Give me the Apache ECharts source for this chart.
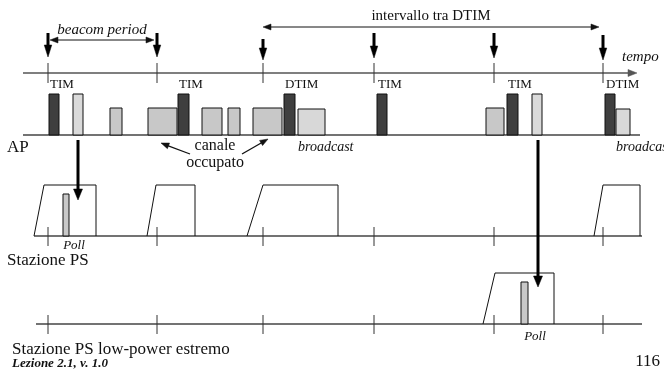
<!DOCTYPE html>
<html><head><meta charset="utf-8">
<script src="https://cdn.jsdelivr.net/npm/echarts@6/dist/echarts.min.js"></script>
<style>html,body{margin:0;padding:0;background:#fff}#c{width:664px;height:373px}</style>
</head><body><div id="c"></div>
<script>
// ---- data (time in diagram units along the x axis) ----
const beaconTimes = [48, 157, 263, 374, 494, 603];
const beaconKinds = ['TIM', 'TIM', 'DTIM', 'TIM', 'TIM', 'DTIM'];
const beaconArrowStart = [33, 33, 39, 33, 33, 35];
const beaconArrowTip = [57, 57, 60, 58, 58, 60];
const timFrames = [[49, 59], [178, 189], [284, 295], [377, 387], [507, 518], [605, 615]];
const unicastFrames = [[73, 83], [532, 542]];
const broadcastFrames = [[298, 325], [616, 630]];
const busyFrames = [[110, 122], [148, 177], [202, 222], [228, 240], [253, 282], [486, 504]];
const psAwake = [[34, 44, 96], [147, 156, 195], [247, 263, 338], [594, 603, 640]];
const lpAwake = [[483, 495, 554]];
const pollPS = [[63, 69]];
const pollLP = [[521, 528]];
const beaconPeriod = [50, 154];
const dtimInterval = [263, 599];

// ---- layout rows (y in the same diagram units, top-down) ----
const ROW = { axis: 73, ap: 135, ps: 236, lp: 324 };
const AP_TALL = 94, AP_SHORT = 109, PS_TOP = 185, LP_TOP = 273;

const FONT = '"Liberation Serif","Times New Roman",serif';

function segSeries(data, color, lw) {
  return { type: 'custom', silent: true, data: data,
    renderItem(p, api) {
      const a = api.coord([api.value(0), api.value(1)]);
      const b = api.coord([api.value(2), api.value(3)]);
      return { type: 'line', shape: { x1: a[0], y1: a[1], x2: b[0], y2: b[1] },
        style: { stroke: color, lineWidth: lw } };
    } };
}
function arrowSeries(data, color, lw, hl, hw, both) {
  return { type: 'custom', silent: true, data: data,
    renderItem(p, api) {
      const a = api.coord([api.value(0), api.value(1)]);
      const b = api.coord([api.value(2), api.value(3)]);
      const dx = b[0] - a[0], dy = b[1] - a[1], L = Math.hypot(dx, dy);
      const ux = dx / L, uy = dy / L;
      const head = (tip, sx, sy) => {
        const bx = tip[0] - sx * hl, by = tip[1] - sy * hl;
        return { type: 'polygon', shape: { points: [tip, [bx - sy * hw / 2, by + sx * hw / 2], [bx + sy * hw / 2, by - sx * hw / 2]] },
          style: { fill: color, stroke: color, lineWidth: 0.5 } };
      };
      const s = both ? [a[0] + ux * hl * 0.8, a[1] + uy * hl * 0.8] : a;
      const e = [b[0] - ux * hl * 0.8, b[1] - uy * hl * 0.8];
      const ch = [{ type: 'line', shape: { x1: s[0], y1: s[1], x2: e[0], y2: e[1] }, style: { stroke: color, lineWidth: lw } }, head(b, ux, uy)];
      if (both) ch.push(head(a, -ux, -uy));
      return { type: 'group', children: ch };
    } };
}
function frameSeries(data, top, base, fill) {
  return { type: 'custom', silent: true, data: data,
    renderItem(p, api) {
      const a = api.coord([api.value(0), top]);
      const b = api.coord([api.value(1), base]);
      return { type: 'rect', shape: { x: a[0], y: a[1], width: b[0] - a[0], height: b[1] - a[1] },
        style: { fill: fill, stroke: '#111', lineWidth: 1 } };
    } };
}
function awakeSeries(data, top, base) {
  return { type: 'custom', silent: true, data: data,
    renderItem(p, api) {
      const p0 = api.coord([api.value(0), base]);
      const p1 = api.coord([api.value(1), top]);
      const p2 = api.coord([api.value(2), top]);
      const p3 = api.coord([api.value(2), base]);
      return { type: 'polyline', shape: { points: [p0, p1, p2, p3] },
        style: { stroke: '#111', lineWidth: 1, fill: null } };
    } };
}

const ticks = [];
beaconTimes.forEach(t => {
  ticks.push([t, 63, t, 83]);
  ticks.push([t, 227, t, 246]);
  ticks.push([t, 315, t, 334]);
});
const beaconArrows = beaconTimes.map((t, i) => [t, beaconArrowStart[i], t, beaconArrowTip[i]]);

const texts = [];
function txt(x, y, s, size, opts) {
  texts.push(Object.assign({ type: 'text', x: x, y: y, silent: true,
    style: { text: s, fill: '#111', font: (opts && opts.f ? opts.f + ' ' : '') + size + 'px ' + FONT,
      align: (opts && opts.a) || 'left', verticalAlign: 'middle' } }));
}

const chart = echarts.init(document.getElementById('c'), null, { renderer: 'canvas' });

function buildTexts() {
  texts.length = 0;
  const c = (x, y) => chart.convertToPixel({ gridIndex: 0 }, [x, y]);
  let p;
  p = c((beaconPeriod[0] + beaconPeriod[1]) / 2, 30); txt(p[0], p[1], 'beacom period', 15, { f: 'italic', a: 'center' });
  p = c(431, 16); txt(p[0], p[1], 'intervallo tra DTIM', 15, { a: 'center' });
  p = c(622, 57); txt(p[0], p[1], 'tempo', 15, { f: 'italic' });
  timFrames.forEach((f, i) => { p = c(f[0] + 1, 85); txt(p[0], p[1], beaconKinds[i], 13); });
  p = c(7, 148); txt(p[0], p[1], 'AP', 17);
  broadcastFrames.forEach(f => { p = c(f[0], 147); txt(p[0], p[1], 'broadcast', 14, { f: 'italic' }); });
  p = c(215, 146); txt(p[0], p[1], 'canale', 16, { a: 'center' });
  p = c(215, 163); txt(p[0], p[1], 'occupato', 16, { a: 'center' });
  p = c(74, 246); txt(p[0], p[1], 'Poll', 13, { f: 'italic', a: 'center' });
  p = c(7, 261); txt(p[0], p[1], 'Stazione PS', 17);
  p = c(535, 337); txt(p[0], p[1], 'Poll', 13, { f: 'italic', a: 'center' });
  p = c(12, 350); txt(p[0], p[1], 'Stazione PS low-power estremo', 17);
  p = c(12, 364); txt(p[0], p[1], 'Lezione 2.1, v. 1.0', 13, { f: 'italic bold' });
  p = c(660, 362); txt(p[0], p[1], '116', 17, { a: 'right' });
}

const option = {
  animation: false,
  backgroundColor: '#fff',
  grid: { left: 0, right: 0, top: 0, bottom: 0 },
  xAxis: { type: 'value', min: 0, max: 664, show: false },
  yAxis: { type: 'value', min: 0, max: 373, inverse: true, show: false },
  series: [
    arrowSeries([[23, ROW.axis, 637, ROW.axis]], '#555', 1.5, 9, 7, false),
    segSeries([[23, ROW.ap, 640, ROW.ap], [34, ROW.ps, 642, ROW.ps], [36, ROW.lp, 642, ROW.lp]], '#444', 1.3),
    segSeries(ticks, '#333', 1),
    arrowSeries(beaconArrows, '#000', 3, 12, 7.5, false),
    arrowSeries([[beaconPeriod[0], 40, beaconPeriod[1], 40], [dtimInterval[0], 27, dtimInterval[1], 27]], '#111', 1, 8, 6, true),
    frameSeries(timFrames, AP_TALL, ROW.ap, '#3f3f3f'),
    frameSeries(unicastFrames, AP_TALL, ROW.ap, '#dadada'),
    frameSeries(broadcastFrames, AP_SHORT, ROW.ap, '#d8d8d8'),
    frameSeries(busyFrames, AP_SHORT - 1, ROW.ap, '#c8c8c8'),
    awakeSeries(psAwake, PS_TOP, ROW.ps),
    awakeSeries(lpAwake, LP_TOP, ROW.lp),
    frameSeries(pollPS, 194, ROW.ps, '#c8c8c8'),
    frameSeries(pollLP, 282, ROW.lp, '#c8c8c8'),
    arrowSeries([[78, 140, 78, 200], [538, 140, 538, 287]], '#000', 3, 11, 9, false),
    arrowSeries([[190, 154, 161, 143], [242, 154, 268, 139]], '#111', 1.3, 8, 6, false)
  ]
};
chart.setOption(option);
buildTexts();
chart.setOption({ graphic: { elements: texts } });
</script>
</body></html>
